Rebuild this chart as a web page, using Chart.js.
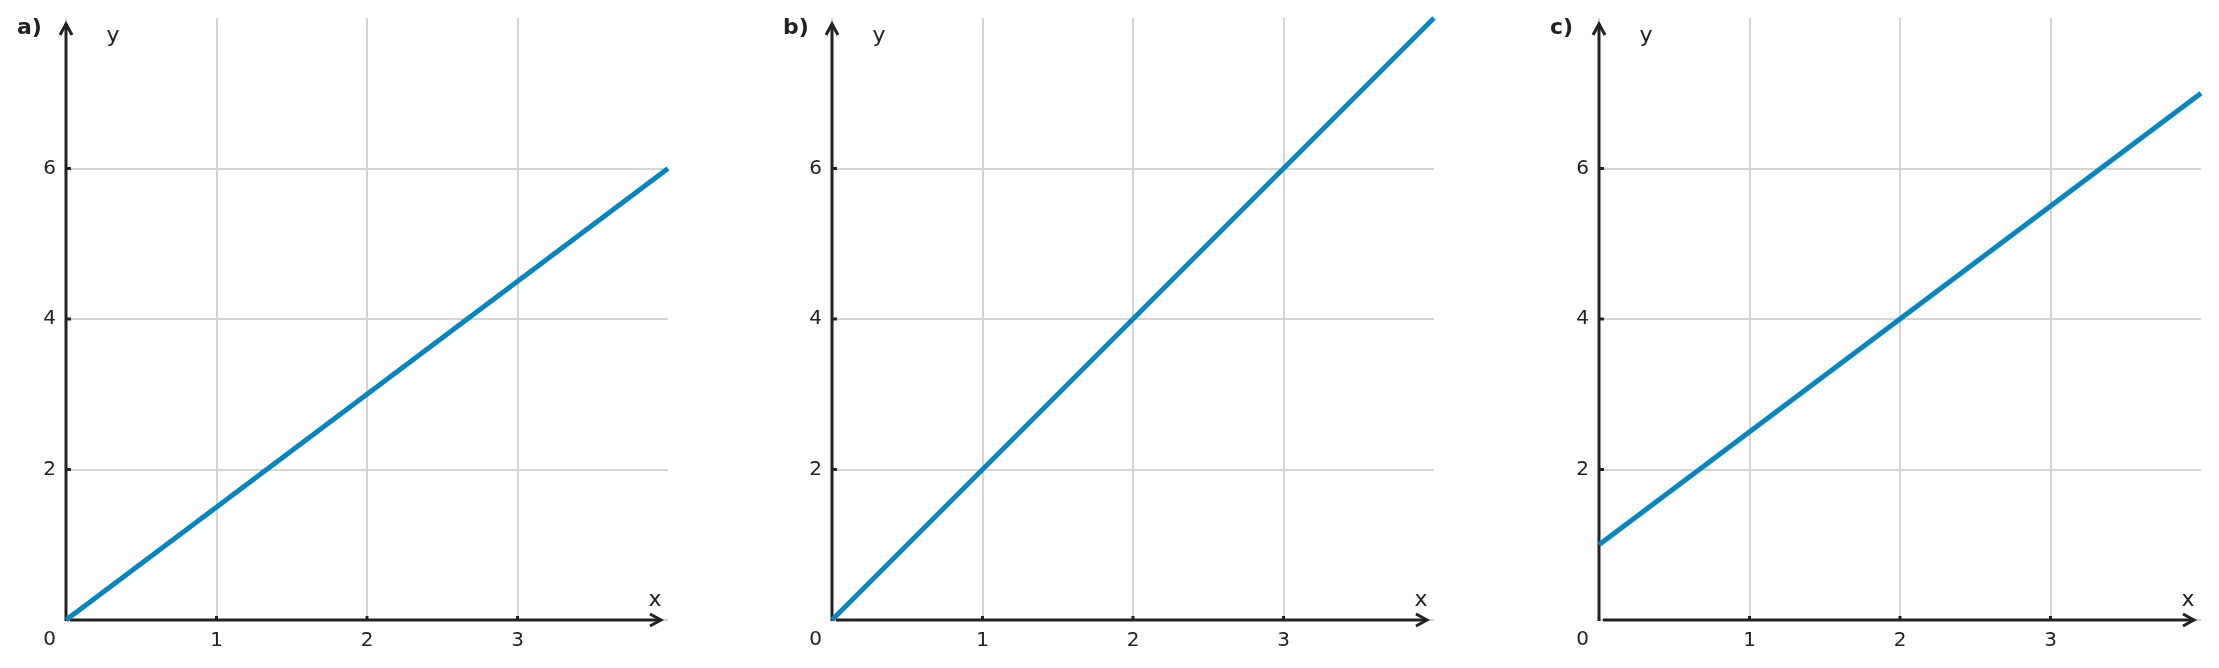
<!DOCTYPE html>
<html>
<head>
<meta charset="utf-8">
<script src="https://cdn.jsdelivr.net/npm/chart.js@4"></script>
<style>
  html, body { margin: 0; padding: 0; background: #fff; overflow: hidden; }
  body { width: 2219px; height: 668px; position: relative; }
  canvas { position: absolute; top: 0; }
</style>
</head>
<body>
<canvas id="chartA" width="686" height="668" style="left:0px"></canvas>
<canvas id="chartB" width="686" height="668" style="left:766px"></canvas>
<canvas id="chartC" width="686" height="668" style="left:1533px"></canvas>
<script>
// data
const panelLabels = ['a)', 'b)', 'c)'];
const xValues = [0, 4];
const seriesA = [0, 6];
const seriesB = [0, 8];
const seriesC = [1, 7];
const xTickLabels = [1, 2, 3];
const yTickLabels = [2, 4, 6];

const FONT = "'DejaVu Sans', sans-serif";
const INK = '#222222';
const GRID = '#d4d4d4';
const LINE = '#0a84bc';

// axes with arrows, small ticks, the corner "0" and the x / y / panel letters
const axesPlugin = {
    id: 'axesPlugin',
    beforeDatasetsDraw(chart, args, opts) {
        const ctx = chart.ctx;
        const xs = chart.scales.x, ys = chart.scales.y;
        const x0 = xs.getPixelForValue(0);
        const y0 = ys.getPixelForValue(0);
        const area = chart.chartArea;
        ctx.save();
        ctx.strokeStyle = INK;
        ctx.lineWidth = 3;
        ctx.lineCap = 'butt';

        // y axis
        const yTip = area.top + 6;
        ctx.beginPath();
        ctx.moveTo(x0, y0 + 1);
        ctx.lineTo(x0, yTip);
        ctx.stroke();
        ctx.beginPath();
        ctx.moveTo(x0 - 6, yTip + 11);
        ctx.lineTo(x0, yTip);
        ctx.lineTo(x0 + 6, yTip + 11);
        ctx.stroke();

        // x axis
        const xTip = area.right - 7;
        ctx.beginPath();
        ctx.moveTo(x0 + 4, y0);
        ctx.lineTo(xTip, y0);
        ctx.stroke();
        ctx.beginPath();
        ctx.moveTo(xTip - 11, y0 - 6);
        ctx.lineTo(xTip, y0);
        ctx.lineTo(xTip - 11, y0 + 6);
        ctx.stroke();

        // tick marks
        xTickLabels.forEach(v => {
            const px = xs.getPixelForValue(v);
            ctx.beginPath();
            ctx.moveTo(px, y0);
            ctx.lineTo(px, y0 - 4);
            ctx.stroke();
        });
        yTickLabels.forEach(v => {
            const py = ys.getPixelForValue(v);
            ctx.beginPath();
            ctx.moveTo(x0, py);
            ctx.lineTo(x0 + 5, py);
            ctx.stroke();
        });

        // text
        ctx.fillStyle = INK;
        ctx.font = '20px ' + FONT;
        ctx.textAlign = 'right';
        ctx.textBaseline = 'top';
        ctx.fillText('0', x0 - 10, y0 + 10);

        ctx.font = '22px ' + FONT;
        ctx.textAlign = 'center';
        ctx.textBaseline = 'middle';
        ctx.fillText('x', area.right - 13, y0 - 20);
        ctx.fillText('y', x0 + 47, 36);

        ctx.font = 'bold 22px ' + FONT;
        ctx.textAlign = 'left';
        ctx.fillText(opts.label, x0 - 49, 28);
        ctx.restore();
    }
};

function makePanel(id, label, values) {
    const points = xValues.map((x, i) => ({ x: x, y: values[i] }));
    new Chart(document.getElementById(id), {
        type: 'line',
        data: {
            datasets: [{
                data: points,
                borderColor: LINE,
                borderWidth: 5,
                pointRadius: 0,
                tension: 0,
                clip: 4
            }]
        },
        options: {
            responsive: false,
            animation: false,
            events: [],
            layout: { padding: { top: 18, right: 18, left: 0, bottom: 0 } },
            plugins: {
                legend: { display: false },
                tooltip: { enabled: false },
                axesPlugin: { label: label }
            },
            scales: {
                x: {
                    type: 'linear',
                    min: 0,
                    max: 4,
                    afterFit: (s) => { s.height = 48; s.paddingLeft = 0; s.paddingRight = 0; },
                    border: { display: false },
                    grid: {
                        drawTicks: false,
                        lineWidth: 2,
                        color: (c) => c.tick && c.tick.value === 4 ? 'rgba(0,0,0,0)' : GRID
                    },
                    ticks: {
                        stepSize: 1,
                        padding: 9,
                        color: INK,
                        font: { family: FONT, size: 20 },
                        maxRotation: 0,
                        callback: (v) => xTickLabels.includes(v) ? String(v) : ''
                    }
                },
                y: {
                    type: 'linear',
                    min: 0,
                    max: 8,
                    afterFit: (s) => { s.width = 66; s.paddingTop = 0; s.paddingBottom = 0; },
                    border: { display: false },
                    grid: {
                        drawTicks: false,
                        lineWidth: 2,
                        color: (c) => c.tick && c.tick.value === 8 ? 'rgba(0,0,0,0)' : GRID
                    },
                    ticks: {
                        stepSize: 2,
                        padding: 10,
                        color: INK,
                        font: { family: FONT, size: 20 },
                        callback: (v) => yTickLabels.includes(v) ? String(v) : ''
                    }
                }
            }
        },
        plugins: [axesPlugin]
    });
}

makePanel('chartA', panelLabels[0], seriesA);
makePanel('chartB', panelLabels[1], seriesB);
makePanel('chartC', panelLabels[2], seriesC);
</script>
</body>
</html>
